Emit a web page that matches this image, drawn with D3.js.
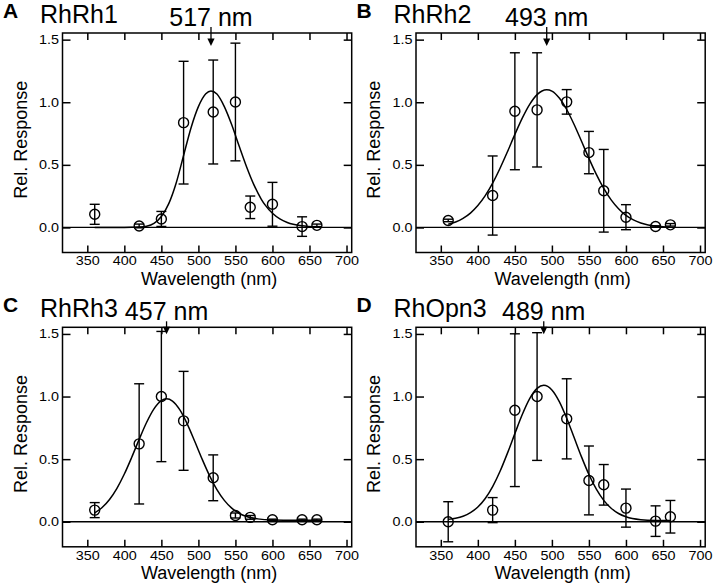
<!DOCTYPE html>
<html>
<head>
<meta charset="utf-8">
<script src="https://cdn.jsdelivr.net/npm/d3@7"></script>
<style>
  body { margin: 0; background: #ffffff; }
  svg { display: block; font-family: "Liberation Sans", Arial, Helvetica, sans-serif; }
</style>
</head>
<body>
<script>
// wavelengths of the stimuli (nm)
const wavelengths = [360, 420, 450, 480, 520, 550, 570, 600, 640, 660];

// mean relative response and error
const rh1Mean = [0.105, 0.012, 0.068, 0.837, 0.922, 1.002, 0.161, 0.185, 0.007, 0.017];
const rh1Err  = [0.08, 0.015, 0.06, 0.49, 0.415, 0.47, 0.09, 0.175, 0.078, 0.01];
const rh2Mean = [0.056, 0.255, 0.928, 0.939, 1.003, 0.598, 0.293, 0.082, 0.008, 0.021];
const rh2Err  = [0.01, 0.316, 0.467, 0.456, 0.098, 0.169, 0.33, 0.1, 0.005, 0.01];
const rh3Mean = [0.093, 0.622, 1.0, 0.806, 0.351, 0.05, 0.035, 0.016, 0.016, 0.016];
const rh3Err  = [0.06, 0.48, 0.52, 0.395, 0.183, 0.02, 0.015, 0.005, 0.005, 0.005];
const opn3Mean = [0.0, 0.093, 0.891, 1.0, 0.822, 0.33, 0.295, 0.109, 0.005, 0.04];
const opn3Err  = [0.16, 0.1, 0.61, 0.51, 0.32, 0.275, 0.162, 0.152, 0.122, 0.13];

// fitted curves, sampled from the figure
const rh1FitX = [360, 380, 400, 410, 420, 430, 440, 450, 460, 470, 480, 490, 500, 510, 517, 525, 535, 545, 555, 565, 575, 585, 590, 600, 610, 620, 640, 660];
const rh1FitY = [0.0, 0.0, 0.0, 0.001, 0.003, 0.01, 0.033, 0.088, 0.19, 0.355, 0.575, 0.795, 0.965, 1.068, 1.09, 1.065, 0.965, 0.82, 0.65, 0.485, 0.34, 0.225, 0.18, 0.113, 0.068, 0.04, 0.013, 0.004];

const rh2FitX = [360, 370, 380, 390, 400, 410, 420, 430, 440, 450, 460, 470, 480, 493, 500, 510, 520, 530, 540, 550, 560, 570, 580, 590, 600, 610, 620, 630, 640, 650, 660];
const rh2FitY = [0.026, 0.044, 0.073, 0.115, 0.175, 0.254, 0.354, 0.473, 0.605, 0.743, 0.873, 0.983, 1.061, 1.10, 1.089, 1.034, 0.942, 0.822, 0.688, 0.552, 0.424, 0.312, 0.220, 0.149, 0.096, 0.060, 0.036, 0.020, 0.011, 0.006, 0.003];

const rh3FitX = [360, 370, 380, 390, 400, 410, 420, 430, 440, 450, 457, 465, 475, 485, 495, 505, 515, 525, 535, 545, 555, 565, 580, 600, 630, 660];
const rh3FitY = [0.071, 0.114, 0.178, 0.267, 0.381, 0.515, 0.658, 0.793, 0.902, 0.968, 0.982, 0.964, 0.893, 0.780, 0.643, 0.501, 0.369, 0.257, 0.171, 0.109, 0.068, 0.042, 0.023, 0.014, 0.012, 0.012];

const opn3FitX = [360, 370, 380, 390, 400, 410, 420, 430, 440, 450, 460, 470, 480, 489, 500, 510, 520, 530, 540, 550, 560, 570, 580, 590, 600, 620, 640, 660];
const opn3FitY = [0.019, 0.028, 0.044, 0.073, 0.118, 0.186, 0.281, 0.403, 0.548, 0.704, 0.856, 0.983, 1.065, 1.09, 1.053, 0.960, 0.827, 0.673, 0.518, 0.377, 0.260, 0.171, 0.108, 0.066, 0.040, 0.017, 0.011, 0.010];

const xTicks = [350, 400, 450, 500, 550, 600, 650, 700];
const yTicks = [0.0, 0.5, 1.0, 1.5];

const panels = [
    { letter: "A", name: "RhRh1", peak: 517, mean: rh1Mean, err: rh1Err, fitX: rh1FitX, fitY: rh1FitY, left: 62.5, top: 33, tip: 13 },
    { letter: "B", name: "RhRh2", peak: 493, mean: rh2Mean, err: rh2Err, fitX: rh2FitX, fitY: rh2FitY, left: 416, top: 33, tip: 13 },
    { letter: "C", name: "RhRh3", peak: 457, mean: rh3Mean, err: rh3Err, fitX: rh3FitX, fitY: rh3FitY, left: 62.5, top: 327.3, tip: 7 },
    { letter: "D", name: "RhOpn3", peak: 489, mean: opn3Mean, err: opn3Err, fitX: opn3FitX, fitY: opn3FitY, left: 416, top: 327.3, tip: 7 }
];

const width = 289.2, height = 219.5;

const svg = d3.select("body")
    .append("svg")
    .attr("width", 713)
    .attr("height", 584);

const x = d3.scaleLinear().domain([316.5, 707]).range([0, width]);
const y = d3.scaleLinear().domain([-0.2, 1.553]).range([height, 0]);

panels.forEach(drawPanel);

function drawPanel(p) {
    const g = svg.append("g").attr("transform", `translate(${p.left},${p.top})`);

    // inward ticks on all four sides
    const bottom = g.append("g")
        .attr("transform", `translate(0,${height})`)
        .call(d3.axisBottom(x).tickValues(xTicks).tickSizeInner(-7).tickSizeOuter(0).tickPadding(4));
    bottom.selectAll("text")
        .attr("font-size", "12.5px")
        .attr("fill", "#000")
        .attr("transform", "scale(1.15,1)");

    g.append("g")
        .call(d3.axisTop(x).tickValues(xTicks).tickSizeInner(-7).tickSizeOuter(0).tickFormat(""));

    const left = g.append("g")
        .call(d3.axisLeft(y).tickValues(yTicks).tickSizeInner(-8).tickSizeOuter(0).tickPadding(3).tickFormat(d3.format(".1f")));
    left.selectAll("text")
        .attr("font-size", "12.5px")
        .attr("fill", "#000")
        .attr("transform", "scale(1.15,1)");

    g.append("g")
        .attr("transform", `translate(${width},0)`)
        .call(d3.axisRight(y).tickValues(yTicks).tickSizeInner(-8).tickSizeOuter(0).tickFormat(""));

    g.selectAll(".domain").remove();
    g.selectAll(".tick line").attr("stroke", "#000").attr("stroke-width", 1.5);

    // frame
    g.append("rect")
        .attr("width", width)
        .attr("height", height)
        .attr("fill", "none")
        .attr("stroke", "#000")
        .attr("stroke-width", 1.5);

    // zero line
    g.append("line")
        .attr("x1", 0).attr("x2", width)
        .attr("y1", y(0)).attr("y2", y(0))
        .attr("stroke", "#000")
        .attr("stroke-width", 1.3);

    // fitted curve
    const fit = p.fitX.map((w, i) => [w, p.fitY[i]]);
    g.append("path")
        .datum(fit)
        .attr("fill", "none")
        .attr("stroke", "#000")
        .attr("stroke-width", 1.5)
        .attr("d", d3.line().x(d => x(d[0])).y(d => y(d[1])).curve(d3.curveMonotoneX));

    const pts = wavelengths.map((w, i) => ({ w: w, m: p.mean[i], e: p.err[i] }));

    // error bars
    const bars = g.selectAll(".bar").data(pts).enter().append("g").attr("class", "bar");
    bars.append("line")
        .attr("x1", d => x(d.w)).attr("x2", d => x(d.w))
        .attr("y1", d => y(d.m + d.e)).attr("y2", d => y(d.m - d.e));
    bars.append("line")
        .attr("x1", d => x(d.w) - 5).attr("x2", d => x(d.w) + 5)
        .attr("y1", d => y(d.m + d.e)).attr("y2", d => y(d.m + d.e));
    bars.append("line")
        .attr("x1", d => x(d.w) - 5).attr("x2", d => x(d.w) + 5)
        .attr("y1", d => y(d.m - d.e)).attr("y2", d => y(d.m - d.e));
    bars.selectAll("line").attr("stroke", "#000").attr("stroke-width", 1.4);

    // open circles
    g.selectAll(".dot").data(pts).enter().append("circle")
        .attr("class", "dot")
        .attr("cx", d => x(d.w))
        .attr("cy", d => y(d.m))
        .attr("r", 5)
        .attr("fill", "none")
        .attr("stroke", "#000")
        .attr("stroke-width", 1.4);

    // peak marker
    const ax = x(p.peak);
    g.append("line")
        .attr("x1", ax).attr("x2", ax)
        .attr("y1", -6).attr("y2", p.tip - 6)
        .attr("stroke", "#000")
        .attr("stroke-width", 1.3);
    g.append("path")
        .attr("d", `M${ax - 3.6},${p.tip - 7.5}L${ax + 3.6},${p.tip - 7.5}L${ax},${p.tip}Z`)
        .attr("fill", "#000");

    g.append("text")
        .attr("x", ax)
        .attr("y", -7)
        .attr("text-anchor", "middle")
        .attr("font-size", "25px")
        .text(p.peak + " nm");

    // panel letter + title
    g.append("text")
        .attr("x", -59.5)
        .attr("y", -15)
        .attr("font-size", "21px")
        .attr("font-weight", "bold")
        .text(p.letter);

    g.append("text")
        .attr("x", -22.5)
        .attr("y", -10)
        .attr("font-size", "25px")
        .text(p.name);

    // axis labels
    g.append("text")
        .attr("x", width / 2 + 2)
        .attr("y", height + 32)
        .attr("text-anchor", "middle")
        .attr("font-size", "18px")
        .text("Wavelength (nm)");

    g.append("text")
        .attr("transform", "rotate(-90)")
        .attr("x", -height / 2 + 3)
        .attr("y", -36)
        .attr("text-anchor", "middle")
        .attr("font-size", "18px")
        .text("Rel. Response");
}
</script>
</body>
</html>
